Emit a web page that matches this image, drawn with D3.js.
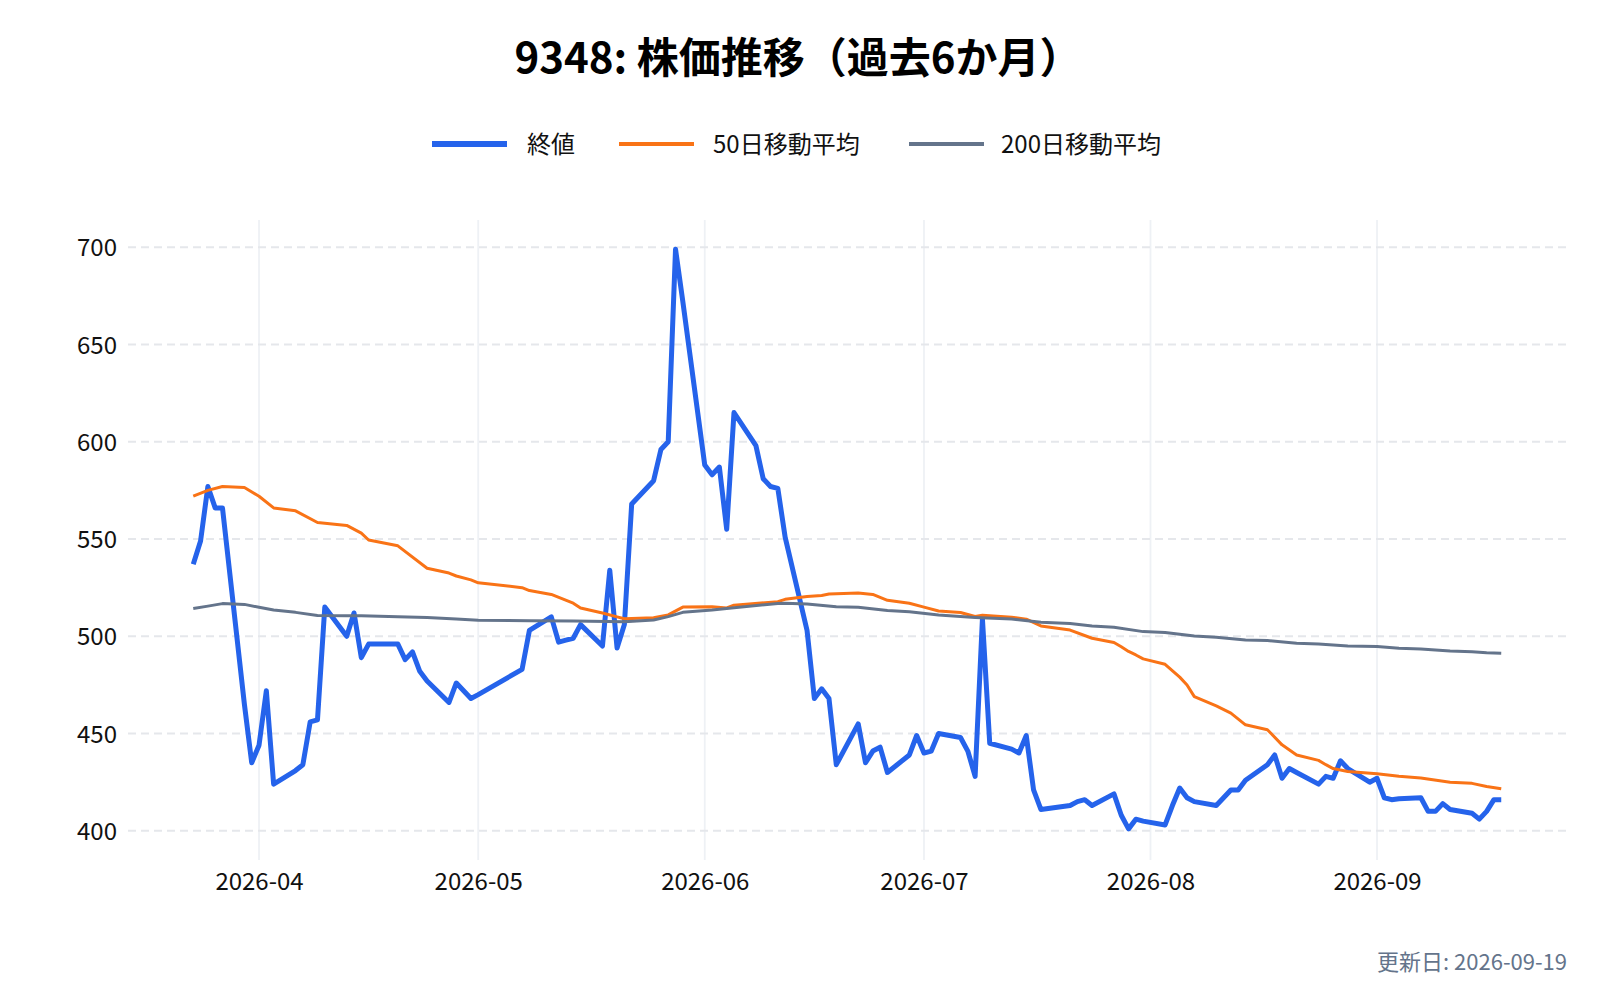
<!DOCTYPE html>
<html>
<head>
<meta charset="utf-8">
<script src="https://cdn.jsdelivr.net/npm/d3@7/dist/d3.min.js"></script>
<style>
  html, body { margin: 0; padding: 0; background: #ffffff; }
  svg { display: block; }
  text { font-family: "Noto Sans CJK JP", "Noto Sans", sans-serif; }
</style>
</head>
<body>
<svg id="chart" width="1600" height="1000"></svg>
<script>
// ---- Data ----
const titleText = "9348: 株価推移（過去6か月）";
const seriesNames = ["終値", "50日移動平均", "200日移動平均"];
const updateLabel = "更新日: 2026-09-19";

const closeDates = [
  "2026-03-23","2026-03-24","2026-03-25","2026-03-26","2026-03-27","2026-03-30","2026-03-31",
  "2026-04-01","2026-04-02","2026-04-03","2026-04-06","2026-04-07","2026-04-08","2026-04-09","2026-04-10",
  "2026-04-13","2026-04-14","2026-04-15","2026-04-16","2026-04-17","2026-04-20","2026-04-21","2026-04-22",
  "2026-04-23","2026-04-24","2026-04-27","2026-04-28","2026-04-30",
  "2026-05-01","2026-05-07","2026-05-08","2026-05-11","2026-05-12","2026-05-13","2026-05-14","2026-05-15",
  "2026-05-18","2026-05-19","2026-05-20","2026-05-21","2026-05-22","2026-05-25","2026-05-26","2026-05-27",
  "2026-05-28","2026-05-29",
  "2026-06-01","2026-06-02","2026-06-03","2026-06-04","2026-06-05","2026-06-08","2026-06-09","2026-06-10",
  "2026-06-11","2026-06-12","2026-06-15","2026-06-16","2026-06-17","2026-06-18","2026-06-19","2026-06-22",
  "2026-06-23","2026-06-24","2026-06-25","2026-06-26","2026-06-29","2026-06-30",
  "2026-07-01","2026-07-02","2026-07-03","2026-07-06","2026-07-07","2026-07-08","2026-07-09","2026-07-10",
  "2026-07-13","2026-07-14","2026-07-15","2026-07-16","2026-07-17","2026-07-21","2026-07-22","2026-07-23",
  "2026-07-24","2026-07-27","2026-07-28","2026-07-29","2026-07-30","2026-07-31",
  "2026-08-03","2026-08-04","2026-08-05","2026-08-06","2026-08-07","2026-08-10","2026-08-12","2026-08-13",
  "2026-08-14","2026-08-17","2026-08-18","2026-08-19","2026-08-20","2026-08-21","2026-08-24","2026-08-25",
  "2026-08-26","2026-08-27","2026-08-28","2026-08-31",
  "2026-09-01","2026-09-02","2026-09-03","2026-09-04","2026-09-07","2026-09-08","2026-09-09","2026-09-10",
  "2026-09-11","2026-09-14","2026-09-15","2026-09-16","2026-09-17","2026-09-18"
];
const closeValues = [
  537,549,577,566,566,465,435,
  444,472,424,431,434,456,457,515,
  500,512,489,496,496,496,488,492,
  482,477,466,476,468,
  470,483,503,510,497,498,499,506,
  495,534,494,506,568,580,596,600,
  699,672,
  588,583,587,555,615,598,581,577,
  576,551,503,468,473,468,434,455,
  435,441,443,430,439,449,
  440,441,450,448,441,428,509,445,
  442,440,449,421,411,413,415,416,
  413,419,408,401,406,405,
  403,413,422,417,415,413,421,421,
  426,434,439,427,432,430,424,428,
  427,436,432,425,
  427,417,416,416.5,417,410,410,414,
  411,409,406,410,416,416
];

const ma50Dates = [
  "2026-03-23","2026-03-25","2026-03-27","2026-03-30","2026-04-01","2026-04-03","2026-04-06","2026-04-09",
  "2026-04-13","2026-04-15","2026-04-16","2026-04-20","2026-04-24","2026-04-27","2026-04-28","2026-04-30",
  "2026-05-01","2026-05-07","2026-05-08","2026-05-11","2026-05-14","2026-05-15","2026-05-18","2026-05-20",
  "2026-05-21","2026-05-25","2026-05-27","2026-05-29","2026-06-02","2026-06-04","2026-06-05","2026-06-11",
  "2026-06-12","2026-06-15","2026-06-17","2026-06-18","2026-06-22","2026-06-24","2026-06-26","2026-06-29",
  "2026-07-01","2026-07-03","2026-07-06","2026-07-08","2026-07-09","2026-07-13","2026-07-15","2026-07-17",
  "2026-07-21","2026-07-24","2026-07-27","2026-07-28","2026-07-29","2026-07-30","2026-07-31","2026-08-03",
  "2026-08-05","2026-08-06","2026-08-07","2026-08-10","2026-08-12","2026-08-14","2026-08-17","2026-08-19",
  "2026-08-21","2026-08-24","2026-08-25","2026-08-26","2026-08-28","2026-09-01","2026-09-04","2026-09-07",
  "2026-09-11","2026-09-14","2026-09-16","2026-09-18"
];
const ma50Values = [
  572,575,577,576.5,572,566,564.5,558.5,
  557,553,549.5,546.5,535,532.5,531,529,
  527.5,525,523.5,521.5,517,514.5,512,510,
  509,509.5,511,515,515.2,514.6,516,517.8,
  519,520.5,521,521.7,522.2,521.5,518.5,517,
  515,513,512.2,510.2,510.8,509.8,508.8,505.3,
  503.2,499,496.8,494.6,492.2,490.4,488.4,485.6,
  479,475,469,464.2,460.5,454.5,452,444.2,
  439,436.2,434,432,430.5,429.3,428,427.1,
  425,424.4,422.8,421.6
];

const ma200Dates = [
  "2026-03-23","2026-03-25","2026-03-27","2026-03-30","2026-04-01","2026-04-03","2026-04-06","2026-04-09",
  "2026-04-13","2026-04-15","2026-04-20","2026-04-24","2026-04-28","2026-05-01","2026-05-08","2026-05-14",
  "2026-05-21","2026-05-25","2026-05-27","2026-05-29","2026-06-02","2026-06-05","2026-06-11","2026-06-12",
  "2026-06-15","2026-06-19","2026-06-22","2026-06-26","2026-06-29","2026-07-03","2026-07-08","2026-07-13",
  "2026-07-17","2026-07-21","2026-07-24","2026-07-27","2026-07-31","2026-08-03","2026-08-07","2026-08-10",
  "2026-08-14","2026-08-17","2026-08-21","2026-08-24","2026-08-28","2026-09-01","2026-09-04","2026-09-07",
  "2026-09-11","2026-09-14","2026-09-16","2026-09-18"
];
const ma200Values = [
  514.3,515.5,516.8,516.4,514.9,513.5,512.3,510.7,
  510.6,510.5,510.1,509.6,508.9,508.2,508.0,507.8,
  507.5,508.4,510.1,512.3,513.5,514.7,516.9,517.0,
  516.6,515.2,514.9,513.2,512.6,510.9,509.7,508.9,
  507.2,506.6,505.3,504.6,502.4,501.9,500.2,499.5,
  498.1,497.8,496.4,496.0,495.0,494.7,493.8,493.5,
  492.4,492.1,491.6,491.3
];

const xTickDates = ["2026-04-01","2026-05-01","2026-06-01","2026-07-01","2026-08-01","2026-09-01"];
const xTickLabels = ["2026-04","2026-05","2026-06","2026-07","2026-08","2026-09"];
const yTickValues = [400, 450, 500, 550, 600, 650, 700];

// ---- Layout ----
const colors = { close: "#2563eb", ma50: "#f97316", ma200: "#64748b" };
const plot = { left: 128, right: 1567, top: 220, bottom: 860 };
const parse = d3.utcParse("%Y-%m-%d");

const svg = d3.select("#chart");

const x = d3.scaleUtc()
  .domain([new Date(Date.UTC(2026, 2, 14, 1, 40)), new Date(Date.UTC(2026, 8, 27, 0, 0))])
  .range([plot.left, plot.right]);
const y = d3.scaleLinear().domain([385, 714]).range([plot.bottom, plot.top]);

// vertical grid
const xTicks = xTickDates.map(parse);
svg.append("g").selectAll("line").data(xTicks).join("line")
  .attr("x1", d => x(d)).attr("x2", d => x(d))
  .attr("y1", plot.top).attr("y2", plot.bottom)
  .attr("stroke", "#eef1f5").attr("stroke-width", 1.8);

// horizontal grid (dashed)
svg.append("g").selectAll("line").data(yTickValues).join("line")
  .attr("x1", plot.left).attr("x2", plot.right)
  .attr("y1", d => y(d)).attr("y2", d => y(d))
  .attr("stroke", "#e5e7eb").attr("stroke-width", 2)
  .attr("stroke-dasharray", "8,5");

// axes via d3 axis generators (domain/tick lines hidden)
const xAxis = d3.axisBottom(x).tickValues(xTicks)
  .tickFormat((d, i) => xTickLabels[i]).tickSize(0).tickPadding(0);
const gx = svg.append("g").attr("transform", `translate(0,${plot.bottom})`).call(xAxis);
gx.select(".domain").remove();
gx.selectAll("text")
  .attr("y", 30).attr("dy", 0)
  .attr("font-size", 24).attr("fill", "#111")
  .style("font-family", '"Noto Sans CJK JP", "Noto Sans", sans-serif');

const yAxis = d3.axisLeft(y).tickValues(yTickValues).tickSize(0).tickPadding(0);
const gy = svg.append("g").attr("transform", `translate(${plot.left},0)`).call(yAxis);
gy.select(".domain").remove();
gy.selectAll("text")
  .attr("x", -11).attr("dy", "0.36em")
  .attr("font-size", 24).attr("fill", "#111")
  .style("font-family", '"Noto Sans CJK JP", "Noto Sans", sans-serif');

// lines
const mkLine = d3.line().x(d => x(d.date)).y(d => y(d.value));
const zip = (ds, vs) => ds.map((d, i) => ({ date: parse(d), value: vs[i] }));

svg.append("path").datum(zip(closeDates, closeValues))
  .attr("d", mkLine).attr("fill", "none")
  .attr("stroke", colors.close).attr("stroke-width", 5)
  .attr("stroke-linejoin", "round").attr("stroke-linecap", "butt");

svg.append("path").datum(zip(ma50Dates, ma50Values))
  .attr("d", mkLine).attr("fill", "none")
  .attr("stroke", colors.ma50).attr("stroke-width", 3)
  .attr("stroke-linejoin", "round");

svg.append("path").datum(zip(ma200Dates, ma200Values))
  .attr("d", mkLine).attr("fill", "none")
  .attr("stroke", colors.ma200).attr("stroke-width", 3)
  .attr("stroke-linejoin", "round");

// title
svg.append("text").attr("x", 798).attr("y", 73)
  .attr("text-anchor", "middle").attr("font-size", 42).attr("font-weight", "bold")
  .attr("fill", "#000").text(titleText);

// legend
const legendItems = [
  { name: seriesNames[0], color: colors.close, w: 5, x0: 432, tx: 527 },
  { name: seriesNames[1], color: colors.ma50, w: 3, x0: 619, tx: 713 },
  { name: seriesNames[2], color: colors.ma200, w: 3, x0: 909, tx: 1001 }
];
const lg = svg.append("g");
legendItems.forEach(it => {
  lg.append("line").attr("x1", it.x0).attr("x2", it.x0 + 75)
    .attr("y1", 144).attr("y2", 144)
    .attr("stroke", it.color).attr("stroke-width", it.w + 1);
  lg.append("text").attr("x", it.tx).attr("y", 153)
    .attr("font-size", 24).attr("fill", "#111").text(it.name);
});

// update annotation
svg.append("text").attr("x", 1567).attr("y", 970)
  .attr("text-anchor", "end").attr("font-size", 22).attr("fill", "#64748b")
  .text(updateLabel);
</script>
</body>
</html>
